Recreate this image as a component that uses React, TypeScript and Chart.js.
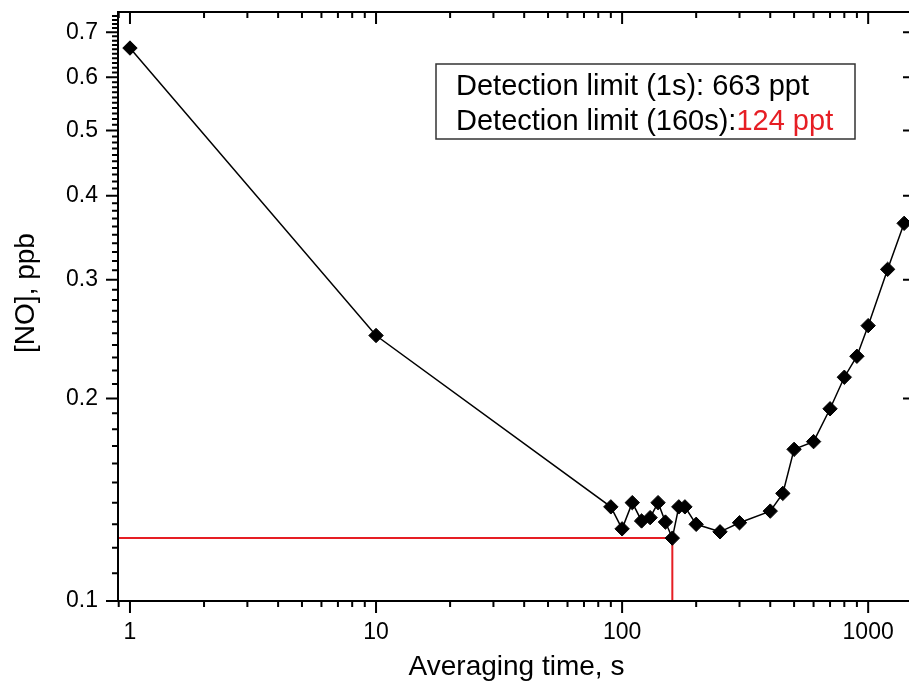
import React, { useEffect, useRef } from 'react';
import { Chart, registerables } from 'chart.js';

Chart.register(...registerables);

// ---- data ----
const times = [1, 10, 90, 100, 110, 120, 130, 140, 150, 160, 170, 180, 200, 250, 300, 400, 450, 500, 600, 700, 800, 900, 1000, 1200, 1400];
const noValues = [0.663, 0.248, 0.138, 0.128, 0.14, 0.1315, 0.133, 0.14, 0.131, 0.124, 0.138, 0.138, 0.13, 0.1267, 0.1307, 0.136, 0.1445, 0.168, 0.1725, 0.193, 0.215, 0.231, 0.2565, 0.311, 0.364];
const limitTime = 160;
const limitValue = 0.124;
const xMajorTicks = [1, 10, 100, 1000];
const yMajorTicks = [0.1, 0.2, 0.3, 0.4, 0.5, 0.6, 0.7];
const xMin = 0.894;
const xMax = 1550;
const yMin = 0.1;
const yMax = 0.75;
const xTitle = 'Averaging time, s';
const yTitle = '[NO], ppb';
const legendLine1 = 'Detection limit (1s): 663 ppt';
const legendLine2a = 'Detection limit (160s):';
const legendLine2b = '124 ppt';

const FAMILY = '"Liberation Sans", Arial, Helvetica, sans-serif';
const RED = 'rgb(230, 30, 36)';

function xMinorTicks(): number[] {
  const out: number[] = [];
  for (const d of [0.1, 1, 10, 100, 1000]) {
    for (let m = 2; m <= 9; m++) {
      const v = Math.round(m * d * 1000) / 1000;
      if (v >= xMin && v <= xMax) out.push(v);
    }
  }
  return out;
}

function yMinorTicks(): number[] {
  const out: number[] = [];
  for (let k = 11; k <= 74; k++) {
    if (k % 10 !== 0) out.push(k / 100);
  }
  return out;
}

const framePlugin = {
  id: 'frameAndNotes',
  afterDraw(chart: any) {
    const { ctx, chartArea: a, scales } = chart;
    const xs = scales.x;
    const ys = scales.y;
    ctx.save();
    ctx.strokeStyle = '#000';
    ctx.lineWidth = 2;
    ctx.beginPath();
    const MAJ = 12;
    const MIN = 6;
    for (const v of xMajorTicks) {
      const p = xs.getPixelForValue(v);
      ctx.moveTo(p, a.bottom); ctx.lineTo(p, a.bottom + MAJ);
      ctx.moveTo(p, a.top); ctx.lineTo(p, a.top + MAJ);
    }
    for (const v of xMinorTicks()) {
      const p = xs.getPixelForValue(v);
      ctx.moveTo(p, a.bottom); ctx.lineTo(p, a.bottom + MIN);
      ctx.moveTo(p, a.top); ctx.lineTo(p, a.top + MIN);
    }
    for (const v of yMajorTicks) {
      const p = ys.getPixelForValue(v);
      ctx.moveTo(a.left, p); ctx.lineTo(a.left - MAJ, p);
      ctx.moveTo(a.right, p); ctx.lineTo(a.right - MAJ, p);
    }
    for (const v of yMinorTicks()) {
      const p = ys.getPixelForValue(v);
      ctx.moveTo(a.left, p); ctx.lineTo(a.left - MIN, p);
    }
    ctx.stroke();
    ctx.strokeRect(a.left, a.top, a.right - a.left, a.bottom - a.top);

    // y title
    ctx.save();
    ctx.fillStyle = '#000';
    ctx.font = `28px ${FAMILY}`;
    ctx.translate(34, 293);
    ctx.rotate(-Math.PI / 2);
    ctx.textAlign = 'center';
    ctx.textBaseline = 'alphabetic';
    ctx.fillText(yTitle, 0, 0);
    ctx.restore();

    // annotation box
    ctx.lineWidth = 1.5;
    ctx.strokeStyle = '#333';
    ctx.strokeRect(436, 64, 419, 75);
    ctx.font = `29px ${FAMILY}`;
    ctx.textAlign = 'left';
    ctx.textBaseline = 'alphabetic';
    ctx.fillStyle = '#000';
    ctx.fillText(legendLine1, 456, 95);
    ctx.fillText(legendLine2a, 456, 130);
    const w = ctx.measureText(legendLine2a).width;
    ctx.fillStyle = RED;
    ctx.fillText(legendLine2b, 456 + w, 130);
    ctx.restore();
  },
};

function zeroPad(s: any) {
  s.paddingTop = 0;
  s.paddingBottom = 0;
  s.paddingLeft = 0;
  s.paddingRight = 0;
}

export default function App() {
  const ref = useRef<HTMLCanvasElement | null>(null);

  useEffect(() => {
    if (!ref.current) return;
    const chart = new Chart(ref.current, {
      type: 'scatter',
      data: {
        datasets: [
          {
            data: times.map((t, i) => ({ x: t, y: noValues[i] })),
            showLine: true,
            borderColor: '#000',
            borderWidth: 1.5,
            pointStyle: 'rectRot',
            pointRadius: 7.2,
            pointBackgroundColor: '#000',
            pointBorderColor: '#000',
            pointBorderWidth: 1,
            clip: 10,
          },
          {
            data: [
              { x: xMin, y: limitValue },
              { x: limitTime, y: limitValue },
              { x: limitTime, y: yMin },
            ],
            showLine: true,
            borderColor: RED,
            borderWidth: 2,
            pointRadius: 0,
          },
        ],
      },
      options: {
        animation: false,
        responsive: false,
        devicePixelRatio: 1,
        layout: { autoPadding: false, padding: { top: 12, right: 5, left: 0, bottom: 0 } },
        plugins: {
          legend: { display: false },
          tooltip: { enabled: false },
        },
        scales: {
          x: {
            type: 'logarithmic',
            min: xMin,
            max: xMax,
            bounds: 'data',
            grid: { display: false, drawTicks: false },
            border: { display: false },
            ticks: {
              autoSkip: false,
              maxRotation: 0,
              padding: 18,
              color: '#000',
              font: { family: FAMILY, size: 23 },
              callback: (v: any) => String(v),
            },
            afterBuildTicks: (s: any) => {
              s.ticks = xMajorTicks.map((v) => ({ value: v }));
            },
            afterFit: (s: any) => {
              s.height = 83;
              zeroPad(s);
            },
            title: {
              display: true,
              text: xTitle,
              color: '#000',
              font: { family: FAMILY, size: 28 },
              padding: { top: 0, bottom: 0 },
            },
          },
          y: {
            type: 'logarithmic',
            min: yMin,
            max: yMax,
            bounds: 'data',
            grid: { display: false, drawTicks: false },
            border: { display: false },
            ticks: {
              autoSkip: false,
              padding: 20,
              color: '#000',
              font: { family: FAMILY, size: 23 },
              callback: (v: any) => String(v),
            },
            afterBuildTicks: (s: any) => {
              s.ticks = yMajorTicks.map((v) => ({ value: v }));
            },
            afterFit: (s: any) => {
              s.width = 118;
              zeroPad(s);
            },
          },
        },
      },
      plugins: [framePlugin],
    } as any);
    return () => chart.destroy();
  }, []);

  return (
    <div style={{ position: 'fixed', left: 0, top: 0, width: 920, height: 684, background: '#fff' }}>
      <canvas ref={ref} width={920} height={684} style={{ display: 'block', width: 920, height: 684 }} />
    </div>
  );
}
